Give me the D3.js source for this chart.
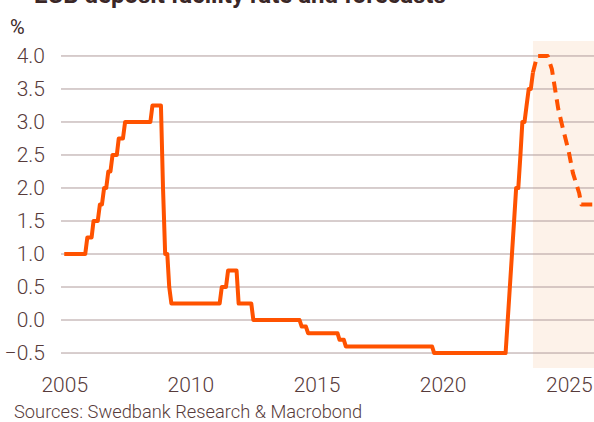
<!DOCTYPE html>
<meta charset="utf-8">
<script src="https://d3js.org/d3.v7.min.js"></script>
<style>
  body { margin: 0; background: #fff; }
  text { font-family: Roboto, "Noto Sans", sans-serif; }
</style>
<div id="my_dataviz"></div>
<script>

// policy rate, monthly points (first of month)
var actualDates = ["2005-01","2005-11","2005-12","2006-02","2006-03","2006-05","2006-06","2006-07","2006-08","2006-09",
  "2006-10","2006-11","2006-12","2007-02","2007-03","2007-05","2007-06","2008-06","2008-07","2008-11",
  "2008-12","2009-01","2009-02","2009-03","2009-04","2011-03","2011-04","2011-06","2011-07","2011-11",
  "2011-12","2012-06","2012-07","2014-05","2014-06","2014-08","2014-09","2015-11","2015-12","2016-02",
  "2016-03","2019-08","2019-09","2022-07","2022-08","2022-11","2022-12","2023-01","2023-02","2023-03",
  "2023-04","2023-05","2023-06","2023-07","2023-08"];
var actualRates = [1.0,1.0,1.25,1.25,1.5,1.5,1.75,1.75,2.0,2.0,
  2.25,2.25,2.5,2.5,2.75,2.75,3.0,3.0,3.25,3.25,
  2.0,1.0,1.0,0.5,0.25,0.25,0.5,0.5,0.75,0.75,
  0.25,0.25,0.0,0.0,-0.1,-0.1,-0.2,-0.2,-0.3,-0.3,
  -0.4,-0.4,-0.5,-0.5,0.0,1.5,2.0,2.0,2.5,3.0,
  3.0,3.25,3.5,3.5,3.75];

// forecast (dashed)
var forecastDates = ["2023-08","2023-10","2024-03","2024-05","2024-08","2024-10","2025-01","2025-03","2025-06","2025-07","2026-01"];
var forecastRates = [3.75,4.0,4.0,3.8,3.2,2.93,2.55,2.23,1.92,1.75,1.75];

var forecastStart = "2023-08";
var yTicks = [-0.5, 0.0, 0.5, 1.0, 1.5, 2.0, 2.5, 3.0, 3.5, 4.0];
var xTickYears = [2005, 2010, 2015, 2020, 2025];

var W = 594, H = 422;
var margin = {top: 41, right: 0, bottom: 54, left: 61};
var width = W - margin.left - margin.right,
    height = H - margin.top - margin.bottom;

var parse = d3.timeParse("%Y-%m");
var textCol = "#573b3b";

var svg = d3.select("#my_dataviz")
  .append("svg")
    .attr("width", W)
    .attr("height", H);

var g = svg.append("g")
    .attr("transform", "translate(" + margin.left + "," + margin.top + ")");

var x = d3.scaleTime()
    .domain([new Date(2004, 10, 15), new Date(2026, 0, 1)])
    .range([0, width]);

var y = d3.scaleLinear()
    .domain([-0.727, 4.227])
    .range([height, 0]);

// forecast shading
g.append("rect")
    .attr("x", x(parse(forecastStart)))
    .attr("y", 0)
    .attr("width", width - x(parse(forecastStart)))
    .attr("height", height)
    .attr("fill", "#fdf2e9");

// gridlines
g.selectAll(".grid")
  .data(yTicks)
  .enter().append("line")
    .attr("x1", 0)
    .attr("x2", width)
    .attr("y1", function(d) { return y(d); })
    .attr("y2", function(d) { return y(d); })
    .attr("stroke", "#b09c9c")
    .attr("stroke-width", 1);

// y axis labels
var yAxis = g.append("g")
    .call(d3.axisLeft(y).tickValues(yTicks).tickSize(0).tickPadding(16).tickFormat(d3.format(".1f")));
yAxis.select(".domain").remove();
yAxis.selectAll("text")
    .style("font-size", "21px")
    .style("font-weight", 300)
    .attr("fill", textCol);

// x axis labels
var xAxis = g.append("g")
    .attr("transform", "translate(0," + height + ")")
    .call(d3.axisBottom(x)
      .tickValues(xTickYears.map(function(d) { return new Date(d, 0, 1); }))
      .tickSize(0).tickPadding(9)
      .tickFormat(d3.timeFormat("%Y")));
xAxis.select(".domain").remove();
xAxis.selectAll("text")
    .style("font-size", "21px")
    .style("font-weight", 300)
    .attr("fill", textCol);

var line = d3.line()
    .x(function(d) { return x(d.date); })
    .y(function(d) { return y(d.value); });

var actual = actualDates.map(function(d, i) { return {date: parse(d), value: actualRates[i]}; });
var forecast = forecastDates.map(function(d, i) { return {date: parse(d), value: forecastRates[i]}; });

g.append("path")
    .datum(actual)
    .attr("d", line)
    .attr("fill", "none")
    .attr("stroke", "#ff5200")
    .attr("stroke-width", 4)
    .attr("stroke-linejoin", "round");

g.append("path")
    .datum(forecast)
    .attr("d", line)
    .attr("fill", "none")
    .attr("stroke", "#ff5200")
    .attr("stroke-width", 4)
    .attr("stroke-dasharray", "11,7")
    .attr("stroke-linejoin", "round");

// title (cut off at the top in the original)
svg.append("text")
    .attr("x", 34)
    .attr("y", 3)
    .text("ECB deposit facility rate and forecasts")
    .style("font-size", "24px")
    .style("font-weight", 700)
    .attr("fill", "#3a2727");

// unit
svg.append("text")
    .attr("x", 10)
    .attr("y", 34)
    .text("%")
    .style("font-size", "20px")
    .style("font-weight", 400)
    .attr("fill", "#3a2727");

// source
svg.append("text")
    .attr("x", 14)
    .attr("y", 418)
    .text("Sources: Swedbank Research & Macrobond")
    .style("font-size", "18.3px")
    .style("font-weight", 300)
    .attr("fill", textCol);

</script>
